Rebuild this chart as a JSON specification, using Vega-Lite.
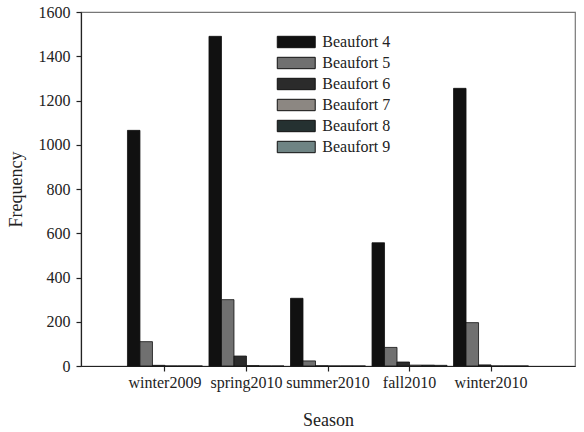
{
  "$schema": "https://vega.github.io/schema/vega-lite/v6.json",
  "width": 494,
  "height": 354,
  "autosize": {"type": "none"},
  "padding": {"left": 81, "top": 12, "right": 9, "bottom": 66},
  "background": "white",
  "data": {
    "values": [
      {"season": "winter2009", "beaufort": "Beaufort 4", "frequency": 1065},
      {"season": "winter2009", "beaufort": "Beaufort 5", "frequency": 110},
      {"season": "winter2009", "beaufort": "Beaufort 6", "frequency": 3},
      {"season": "winter2009", "beaufort": "Beaufort 7", "frequency": 0},
      {"season": "winter2009", "beaufort": "Beaufort 8", "frequency": 0},
      {"season": "winter2009", "beaufort": "Beaufort 9", "frequency": 0},
      {"season": "spring2010", "beaufort": "Beaufort 4", "frequency": 1490},
      {"season": "spring2010", "beaufort": "Beaufort 5", "frequency": 300},
      {"season": "spring2010", "beaufort": "Beaufort 6", "frequency": 45},
      {"season": "spring2010", "beaufort": "Beaufort 7", "frequency": 2},
      {"season": "spring2010", "beaufort": "Beaufort 8", "frequency": 0},
      {"season": "spring2010", "beaufort": "Beaufort 9", "frequency": 0},
      {"season": "summer2010", "beaufort": "Beaufort 4", "frequency": 306},
      {"season": "summer2010", "beaufort": "Beaufort 5", "frequency": 23},
      {"season": "summer2010", "beaufort": "Beaufort 6", "frequency": 1},
      {"season": "summer2010", "beaufort": "Beaufort 7", "frequency": 0},
      {"season": "summer2010", "beaufort": "Beaufort 8", "frequency": 0},
      {"season": "summer2010", "beaufort": "Beaufort 9", "frequency": 0},
      {"season": "fall2010", "beaufort": "Beaufort 4", "frequency": 557},
      {"season": "fall2010", "beaufort": "Beaufort 5", "frequency": 84},
      {"season": "fall2010", "beaufort": "Beaufort 6", "frequency": 18},
      {"season": "fall2010", "beaufort": "Beaufort 7", "frequency": 4},
      {"season": "fall2010", "beaufort": "Beaufort 8", "frequency": 4},
      {"season": "fall2010", "beaufort": "Beaufort 9", "frequency": 3},
      {"season": "winter2010", "beaufort": "Beaufort 4", "frequency": 1255},
      {"season": "winter2010", "beaufort": "Beaufort 5", "frequency": 196},
      {"season": "winter2010", "beaufort": "Beaufort 6", "frequency": 5},
      {"season": "winter2010", "beaufort": "Beaufort 7", "frequency": 0},
      {"season": "winter2010", "beaufort": "Beaufort 8", "frequency": 0},
      {"season": "winter2010", "beaufort": "Beaufort 9", "frequency": 0}
    ]
  },
  "mark": {"type": "bar", "stroke": "#111111", "strokeWidth": 0.8},
  "encoding": {
    "x": {
      "field": "season",
      "type": "nominal",
      "sort": ["winter2009", "spring2010", "summer2010", "fall2010", "winter2010"],
      "scale": {"paddingInner": 0.08, "paddingOuter": 0.57},
      "axis": {"title": "Season", "labelAngle": 0, "tickSize": 5, "labelPadding": 3, "titlePadding": 21}
    },
    "xOffset": {
      "field": "beaufort",
      "type": "nominal",
      "scale": {"paddingInner": 0, "paddingOuter": 0}
    },
    "y": {
      "field": "frequency",
      "type": "quantitative",
      "scale": {"domain": [0, 1600], "nice": false},
      "axis": {
        "title": "Frequency",
        "format": "d",
        "values": [0, 200, 400, 600, 800, 1000, 1200, 1400, 1600],
        "grid": false,
        "tickSize": 5,
        "labelPadding": 6,
        "titlePadding": 13
      }
    },
    "color": {
      "field": "beaufort",
      "type": "nominal",
      "scale": {
        "domain": ["Beaufort 4", "Beaufort 5", "Beaufort 6", "Beaufort 7", "Beaufort 8", "Beaufort 9"],
        "range": ["#111111", "#707070", "#2b2b2b", "#8c8782", "#253131", "#6f8484"]
      },
      "legend": {
        "title": null,
        "orient": "none",
        "legendX": 193,
        "legendY": 22,
        "symbolType": "M-4,-1.2H4V1.2H-4Z",
        "symbolSize": 90,
        "symbolOffset": 14.25,
        "symbolStrokeColor": "#111111",
        "symbolStrokeWidth": 1,
        "symbolOpacity": 1,
        "labelOffset": 18,
        "rowPadding": 5,
        "padding": 0
      }
    }
  },
  "config": {
    "view": {"stroke": "#777777", "strokeWidth": 1.2},
    "axis": {
      "labelFont": "Liberation Serif",
      "labelFontSize": 16,
      "labelColor": "#222222",
      "titleFont": "Liberation Serif",
      "titleFontSize": 18,
      "titleFontWeight": "normal",
      "titleColor": "#222222",
      "domainColor": "#222222",
      "domainWidth": 1.2,
      "tickColor": "#222222",
      "tickWidth": 1.2
    },
    "legend": {
      "labelFont": "Liberation Serif",
      "labelFontSize": 16,
      "labelColor": "#222222"
    }
  }
}
